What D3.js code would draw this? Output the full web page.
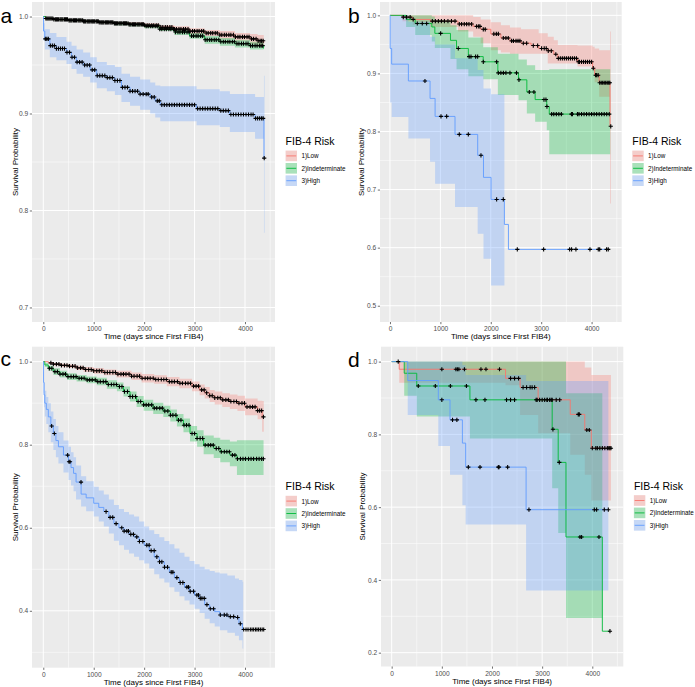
<!DOCTYPE html>
<html><head><meta charset="utf-8">
<script src="https://cdn.jsdelivr.net/npm/d3@7"></script>
<style>
body{margin:0;background:#fff}
svg{display:block}
text{font-family:"Liberation Sans",Arial,sans-serif}
</style>
</head><body>
<svg id="chart" width="695" height="687"></svg>
<script>
// ---------------- DATA ----------------
const groups = ["1)Low", "2)Indeterminate", "3)High"];
const legendTitle = "FIB-4 Risk";
const xTitle = "Time (days since First FIB4)";
const yTitle = "Survival Probability";
const xTicks = [0, 1000, 2000, 3000, 4000];
const aYTicks = [0.7, 0.8, 0.9, 1.0];
const bYTicks = [0.5, 0.6, 0.7, 0.8, 0.9, 1.0];
const cYTicks = [0.4, 0.6, 0.8, 1.0];
const dYTicks = [0.2, 0.4, 0.6, 0.8, 1.0];

// Panel a
const aLowTime  = [0,50,200,500,800,1100,1400,1700,2000,2300,2600,2900,3200,3500,3800,4100,4250,4372];
const aLowSurv  = [1.000,0.998,0.997,0.996,0.995,0.994,0.993,0.992,0.991,0.989,0.987,0.985,0.983,0.981,0.979,0.977,0.975,0.973];
const aLowUpper = [1.000,0.999,0.998,0.997,0.996,0.995,0.994,0.994,0.993,0.991,0.990,0.988,0.986,0.985,0.983,0.982,0.981,0.980];
const aLowLower = [1.000,0.997,0.996,0.995,0.994,0.993,0.992,0.991,0.989,0.987,0.985,0.982,0.980,0.977,0.975,0.972,0.970,0.967];
const aLowCensor = [50,90,130,170,210,260,300,350,390,440,480,530,570,620,660,710,750,800,840,890,930,980,1020,1070,1110,1160,1200,1250,1290,1340,1380,1430,1470,1520,1560,1610,1650,1700,1740,1790,1830,1880,1920,1970,2010,2060,2100,2150,2190,2240,2280,2330,2370,2420,2460,2510,2550,2600,2640,2690,2730,2780,2820,2870,2910,2960,3000,3050,3090,3140,3180,3230,3270,3320,3360,3410,3450,3500,3540,3590,3630,3680,3720,3770,3810,3860,3900,3950,3990,4040,4080,4130,4170,4220,4260,4300,4330,4360];

const aIndTime  = [0,50,200,500,800,1100,1400,1700,2000,2300,2600,2900,3200,3500,3800,4100,4368];
const aIndSurv  = [1.000,0.998,0.997,0.996,0.995,0.994,0.993,0.992,0.990,0.987,0.984,0.980,0.976,0.974,0.972,0.970,0.967];
const aIndUpper = [1.000,0.999,0.998,0.997,0.996,0.995,0.994,0.993,0.992,0.989,0.986,0.983,0.980,0.978,0.976,0.974,0.972];
const aIndLower = [1.000,0.997,0.996,0.995,0.994,0.993,0.991,0.990,0.988,0.985,0.981,0.977,0.972,0.970,0.968,0.966,0.962];
const aIndCensor = [70,110,150,190,240,280,330,370,420,460,510,550,600,640,690,730,780,820,870,910,960,1000,1050,1090,1140,1180,1230,1270,1320,1360,1410,1450,1500,1540,1590,1630,1680,1720,1770,1810,1860,1900,1950,1990,2040,2080,2130,2170,2220,2260,2310,2350,2400,2440,2490,2530,2580,2620,2670,2710,2760,2800,2850,2890,2940,2980,3030,3070,3120,3160,3210,3250,3300,3340,3390,3430,3480,3520,3570,3610,3660,3700,3750,3790,3840,3880,3930,3970,4020,4060,4110,4150,4200,4240,4290,4320,4350];

const aHighTime  = [0,5,30,130,260,460,560,660,790,930,1060,1260,1420,1550,1720,1920,2120,2220,2320,3040,3500,3700,4200,4376,4387];
const aHighSurv  = [1.000,0.985,0.977,0.970,0.967,0.963,0.958,0.953,0.950,0.945,0.939,0.937,0.934,0.927,0.923,0.920,0.917,0.913,0.909,0.905,0.903,0.899,0.895,0.854,0.854];
const aHighUpper = [1.000,0.993,0.987,0.983,0.979,0.974,0.970,0.966,0.963,0.958,0.953,0.950,0.948,0.941,0.938,0.935,0.932,0.929,0.928,0.925,0.923,0.920,0.917,0.939,0.939];
const aHighLower = [1.000,0.975,0.966,0.958,0.955,0.951,0.946,0.941,0.938,0.932,0.926,0.923,0.919,0.912,0.908,0.904,0.900,0.896,0.892,0.888,0.886,0.881,0.874,0.777,0.777];
const aHighCensor = [40,70,100,140,180,220,260,300,340,380,420,470,520,570,620,670,720,770,820,870,920,970,1020,1070,1120,1170,1220,1270,1320,1370,1420,1470,1520,1570,1620,1670,1720,1770,1820,1870,1920,1980,2040,2080,2150,2200,2260,2300,2350,2400,2450,2500,2550,2600,2650,2700,2750,2800,2850,2900,2950,3000,3060,3110,3160,3210,3260,3310,3360,3410,3460,3520,3570,3620,3670,3720,3770,3820,3870,3920,3970,4020,4070,4120,4160,4210,4250,4290,4330,4360,4381];

// Panel b
const bLowTime  = [0,250,450,800,1350,1650,1800,2000,2200,2380,2600,2800,2950,3130,3250,3330,3720,4020,4060,4150,4365,4380];
const bLowSurv  = [1.000,0.997,0.993,0.990,0.985,0.981,0.976,0.968,0.961,0.956,0.952,0.948,0.943,0.939,0.933,0.926,0.920,0.909,0.897,0.884,0.809,0.809];
const bLowUpper = [1.000,1.000,1.000,1.000,1.000,0.997,0.993,0.988,0.983,0.979,0.976,0.976,0.969,0.963,0.957,0.949,0.948,0.946,0.943,0.940,0.972,0.972];
const bLowLower = [1.000,0.990,0.984,0.980,0.972,0.963,0.952,0.940,0.936,0.934,0.934,0.934,0.934,0.917,0.917,0.917,0.912,0.905,0.885,0.860,0.676,0.676];
const bLowCensor = [264,330,400,460,840,900,960,1020,1080,1150,1220,1290,1375,1421,1474,1521,1567,1620,1719,1760,1785,1851,1890,2060,2110,2150,2248,2300,2347,2413,2450,2500,2540,2578,2645,2711,2843,2929,3008,3060,3100,3140,3200,3290,3340,3380,3420,3460,3500,3540,3580,3620,3660,3700,3736,3760,3800,3840,3880,3920,3960,4000,4033,4079,4100,4130,4160,4190,4220,4250,4280,4310,4340,4362,4380];

const bIndTime  = [0,320,500,830,890,1200,1320,1555,1850,2140,2550,2715,2880,3110,3160,4370];
const bIndSurv  = [1.000,0.993,0.986,0.980,0.969,0.957,0.943,0.929,0.920,0.901,0.889,0.868,0.855,0.843,0.830,0.830];
const bIndUpper = [1.000,1.000,1.000,0.998,0.992,0.983,0.975,0.962,0.945,0.934,0.924,0.914,0.906,0.906,0.907,0.907];
const bIndLower = [1.000,0.980,0.966,0.955,0.944,0.925,0.907,0.895,0.890,0.863,0.854,0.831,0.817,0.802,0.761,0.761];
const bIndCensor = [542,641,727,1005,1355,1570,1607,1699,1739,1851,2116,2149,2200,2250,2300,2380,2510,2559,2764,2856,3055,3094,3114,3207,3250,3300,3350,3400,3600,3620,3720,3750,3800,3850,3900,3950,4000,4050,4100,4150,4200,4250,4300,4350];

const bHighTime  = [0,3,33,365,795,895,1290,1740,1855,2005,2270,2350,4360];
const bHighSurv  = [1.000,0.943,0.916,0.887,0.857,0.826,0.795,0.759,0.721,0.683,0.640,0.597,0.597];
const bHighUpper = [1.000,1.000,1.000,0.989,0.963,0.950,0.926,0.906,0.874,0.864,null,null,null];
const bHighLower = [1.000,0.850,0.825,0.788,0.748,0.710,0.670,0.624,0.581,0.535,null,null,null];
const bHighCensor = [694,1012,1124,1375,1554,1805,2116,2248,2526,3048,3564,3603,3689,3967,4132,4160,4297,4330];

// Panel c
const cLowTime  = [0,100,200,350,500,650,800,1000,1200,1450,1750,1950,2200,2450,2700,2950,3100,3200,3300,3400,3550,3700,3850,4000,4250,4340,4372];
const cLowSurv  = [1.000,0.997,0.994,0.991,0.989,0.985,0.981,0.978,0.974,0.970,0.965,0.960,0.957,0.952,0.948,0.941,0.932,0.925,0.918,0.913,0.908,0.904,0.900,0.891,0.882,0.867,0.867];
const cLowUpper = [1.000,0.999,0.997,0.995,0.993,0.990,0.987,0.985,0.981,0.978,0.974,0.970,0.967,0.963,0.959,0.952,0.945,0.939,0.932,0.928,0.924,0.921,0.918,0.911,0.906,0.905,0.905];
const cLowLower = [1.000,0.995,0.991,0.987,0.985,0.980,0.975,0.971,0.967,0.962,0.956,0.950,0.947,0.941,0.936,0.929,0.919,0.911,0.903,0.897,0.891,0.886,0.881,0.871,0.861,0.831,0.831];
const cLowCensor = [150,200,260,310,360,420,470,520,580,630,680,740,790,840,900,950,1000,1060,1110,1160,1220,1270,1320,1380,1430,1480,1540,1590,1640,1700,1750,1800,1860,1910,1960,2020,2070,2120,2180,2230,2280,2340,2390,2440,2500,2550,2600,2660,2710,2760,2820,2870,2920,2980,3030,3080,3140,3190,3240,3300,3350,3400,3460,3510,3560,3620,3670,3720,3780,3830,3880,3940,3990,4040,4100,4150,4200,4250,4290,4330,4365];

const cIndTime  = [0,30,100,200,330,470,660,860,1060,1260,1460,1590,1720,1850,1990,2180,2380,2520,2650,2780,2910,3050,3180,3380,3510,3700,3840,4368];
const cIndSurv  = [1.000,0.992,0.984,0.976,0.970,0.964,0.960,0.956,0.952,0.945,0.940,0.928,0.916,0.904,0.896,0.888,0.881,0.871,0.859,0.847,0.827,0.815,0.799,0.791,0.783,0.775,0.766,0.766];
const cIndUpper = [1.000,0.997,0.990,0.984,0.978,0.972,0.968,0.964,0.961,0.955,0.950,0.940,0.928,0.917,0.908,0.901,0.894,0.885,0.874,0.863,0.845,0.835,0.822,0.817,0.812,0.808,0.811,0.811];
const cIndLower = [1.000,0.987,0.978,0.968,0.962,0.956,0.952,0.948,0.943,0.935,0.929,0.916,0.904,0.891,0.882,0.874,0.867,0.856,0.844,0.830,0.808,0.795,0.777,0.768,0.758,0.748,0.727,0.727];
const cIndCensor = [120,170,230,280,330,390,440,490,550,600,650,710,760,810,870,920,970,1030,1080,1130,1190,1240,1290,1350,1400,1450,1510,1560,1610,1670,1720,1770,1830,1880,1930,1990,2040,2090,2150,2200,2250,2310,2360,2410,2470,2520,2570,2630,2680,2730,2790,2840,2890,2950,3000,3050,3110,3160,3210,3270,3320,3370,3430,3480,3530,3590,3640,3690,3750,3800,3850,3910,3960,4010,4070,4120,4170,4230,4280,4330,4365];

const cHighTime  = [0,5,15,30,60,100,150,200,250,300,400,500,550,600,650,750,850,1000,1100,1200,1300,1400,1500,1600,1700,1800,1900,2000,2100,2200,2300,2400,2500,2600,2700,2800,2900,3000,3100,3200,3300,3400,3500,3650,3800,3880,3950,3965,4370];
const cHighSurv  = [1.000,0.950,0.920,0.900,0.885,0.867,0.845,0.827,0.810,0.795,0.775,0.759,0.745,0.731,0.710,0.681,0.672,0.659,0.649,0.639,0.625,0.610,0.600,0.592,0.584,0.578,0.567,0.558,0.545,0.530,0.518,0.505,0.493,0.480,0.468,0.457,0.447,0.438,0.430,0.415,0.405,0.398,0.390,0.386,0.384,0.369,0.355,0.355,0.355];
const cHighUpper = [1.000,0.975,0.950,0.930,0.915,0.900,0.880,0.862,0.845,0.830,0.810,0.795,0.782,0.770,0.750,0.724,0.712,0.699,0.690,0.680,0.668,0.655,0.645,0.638,0.632,0.627,0.615,0.603,0.594,0.585,0.577,0.568,0.560,0.550,0.540,0.530,0.520,0.512,0.506,0.500,0.496,0.492,0.490,0.485,0.478,0.474,0.470,null,null];
const cHighLower = [1.000,0.925,0.890,0.868,0.850,0.830,0.806,0.787,0.770,0.755,0.733,0.715,0.702,0.688,0.668,0.651,0.640,0.627,0.615,0.603,0.586,0.569,0.558,0.547,0.538,0.530,0.522,0.514,0.502,0.488,0.478,0.468,0.457,0.446,0.435,0.425,0.415,0.405,0.395,0.381,0.370,0.362,0.353,0.347,0.340,0.329,0.309,null,null];
const cHighCensor = [166,219,483,510,530,748,1245,1325,1377,1444,1556,1603,1656,1689,1735,1788,1854,1907,1974,2053,2099,2139,2199,2252,2305,2351,2404,2464,2536,2570,2649,2715,2768,2848,2881,2914,2980,3046,3079,3113,3146,3192,3245,3311,3377,3510,3589,3642,3709,3775,3854,3907,3974,4020,4060,4106,4140,4172,4210,4238,4270,4305,4340,4371];

// Panel d
const dLowTime  = [0,150,2270,2560,2920,3560,3850,3980,4372];
const dLowSurv  = [1.000,0.979,0.954,0.929,0.895,0.855,0.812,0.762,0.762];
const dLowUpper = [1.000,1.000,1.000,1.000,1.000,1.000,0.984,0.963,0.963];
const dLowLower = [1.000,0.942,0.935,0.853,0.803,0.744,0.689,0.618,0.618];
const dLowCensor = [130,1000,1280,1310,1340,1450,1780,1880,2150,2370,2450,2530,2620,2690,2760,2800,2850,2950,3050,3100,3150,3200,3280,3350,3720,3740,3890,3940,4000,4070,4100,4150,4200,4250,4300,4330,4350,4372];

const dIndTime  = [0,250,500,1560,3200,3320,3475,4200,4352];
const dIndSurv  = [1.000,0.968,0.933,0.895,0.814,0.723,0.518,0.259,0.259];
const dIndUpper = [1.000,1.000,1.000,1.000,1.000,1.000,0.913,null,null];
const dIndLower = [1.000,0.906,0.849,0.789,0.652,0.529,0.295,null,null];
const dIndCensor = [530,870,1170,1490,1680,1860,2290,2370,2450,2880,2900,3000,3100,3180,3215,3342,3754,3787,4133,4352];

const dHighTime  = [0,320,930,1163,1410,1475,2680,4320];
const dHighSurv  = [1.000,0.948,0.895,0.840,0.776,0.710,0.593,0.593];
const dHighUpper = [1.000,1.000,1.000,1.000,0.990,0.963,0.947,0.947];
const dHighLower = [1.000,0.853,0.768,0.689,0.605,0.552,0.371,0.371];
const dHighCensor = [1000,1213,1300,1528,1761,2126,2140,2312,2737,4040,4086,4239,4319];

// ---------------- STYLE / LAYOUT ----------------
const colors = ["#F8766D", "#00BA38", "#619CFF"];

const panels = [
  { letter: "a", box: [32, 275, 2, 322], xDomain: [-224, 4595], yDomain: [0.685, 1.015], yTicks: aYTicks,
    letterPos: [0.5, 23], yTitleX: 15,
    series: [
      {time: aLowTime, surv: aLowSurv, up: aLowUpper, lo: aLowLower, cens: aLowCensor},
      {time: aIndTime, surv: aIndSurv, up: aIndUpper, lo: aIndLower, cens: aIndCensor},
      {time: aHighTime, surv: aHighSurv, up: aHighUpper, lo: aHighLower, cens: aHighCensor}] },
  { letter: "b", box: [380, 621.7, 2, 322], xDomain: [-198, 4597], yDomain: [0.472, 1.023], yTicks: bYTicks,
    letterPos: [348, 23], yTitleX: 361.7,
    series: [
      {time: bLowTime, surv: bLowSurv, up: bLowUpper, lo: bLowLower, cens: bLowCensor},
      {time: bIndTime, surv: bIndSurv, up: bIndUpper, lo: bIndLower, cens: bIndCensor},
      {time: bHighTime, surv: bHighSurv, up: bHighUpper, lo: bHighLower, cens: bHighCensor}] },
  { letter: "c", box: [32, 275, 346.7, 667.7], xDomain: [-224, 4595], yDomain: [0.263, 1.036], yTicks: cYTicks,
    letterPos: [0.5, 366], yTitleX: 15,
    series: [
      {time: cLowTime, surv: cLowSurv, up: cLowUpper, lo: cLowLower, cens: cLowCensor},
      {time: cIndTime, surv: cIndSurv, up: cIndUpper, lo: cIndLower, cens: cIndCensor},
      {time: cHighTime, surv: cHighSurv, up: cHighUpper, lo: cHighLower, cens: cHighCensor}] },
  { letter: "d", box: [381, 623.3, 346.7, 666.5], xDomain: [-213, 4618], yDomain: [0.162, 1.041], yTicks: dYTicks,
    letterPos: [348, 366.5], yTitleX: 362.3,
    series: [
      {time: dLowTime, surv: dLowSurv, up: dLowUpper, lo: dLowLower, cens: dLowCensor},
      {time: dIndTime, surv: dIndSurv, up: dIndUpper, lo: dIndLower, cens: dIndCensor},
      {time: dHighTime, surv: dHighSurv, up: dHighUpper, lo: dHighLower, cens: dHighCensor}] }
];

const svg = d3.select("#chart");
const defs = svg.append("defs");

function minorBreaks(ticks, domain) {
  const step = ticks[1] - ticks[0];
  const ext = [ticks[0] - step, ...ticks, ticks[ticks.length - 1] + step];
  const out = [];
  for (let i = 0; i < ext.length - 1; i++) {
    const m = (ext[i] + ext[i + 1]) / 2;
    if (m > domain[0] && m < domain[1]) out.push(m);
  }
  return out;
}

function drawPanel(p) {
  const [x0, x1, y0, y1] = p.box;
  const x = d3.scaleLinear().domain(p.xDomain).range([x0, x1]);
  const y = d3.scaleLinear().domain(p.yDomain).range([y1, y0]);
  const g = svg.append("g");

  g.append("rect").attr("x", x0).attr("y", y0).attr("width", x1 - x0).attr("height", y1 - y0).attr("fill", "#EBEBEB");

  const grid = g.append("g").attr("stroke", "#FFFFFF");
  minorBreaks(xTicks, p.xDomain).forEach(v => grid.append("line").attr("x1", x(v)).attr("x2", x(v)).attr("y1", y0).attr("y2", y1).attr("stroke-width", 0.5));
  minorBreaks(p.yTicks, p.yDomain).forEach(v => grid.append("line").attr("y1", y(v)).attr("y2", y(v)).attr("x1", x0).attr("x2", x1).attr("stroke-width", 0.5));
  xTicks.forEach(v => grid.append("line").attr("x1", x(v)).attr("x2", x(v)).attr("y1", y0).attr("y2", y1).attr("stroke-width", 1));
  p.yTicks.forEach(v => grid.append("line").attr("y1", y(v)).attr("y2", y(v)).attr("x1", x0).attr("x2", x1).attr("stroke-width", 1));

  const clipId = "clip-" + p.letter;
  defs.append("clipPath").attr("id", clipId).append("rect").attr("x", x0).attr("y", y0).attr("width", x1 - x0).attr("height", y1 - y0);
  const plot = g.append("g").attr("clip-path", `url(#${clipId})`);

  const area = d3.area().defined(d => d.def).x(d => x(d.t)).y0(d => y(d.lo)).y1(d => y(d.up));
  p.series.forEach((s, k) => {
    const pts = [];
    for (let i = 0; i < s.time.length - 1; i++) {
      const def = s.up[i] != null && s.lo[i] != null;
      pts.push({t: s.time[i], up: s.up[i], lo: s.lo[i], def});
      pts.push({t: s.time[i + 1], up: s.up[i], lo: s.lo[i], def});
    }
    plot.append("path").attr("d", area(pts)).attr("fill", colors[k]).attr("fill-opacity", 0.3).attr("stroke", "none");
  });

  const line = d3.line().curve(d3.curveStepAfter).x(d => x(d[0])).y(d => y(d[1]));
  p.series.forEach((s, k) => {
    plot.append("path").attr("d", line(s.time.map((t, i) => [t, s.surv[i]])))
      .attr("fill", "none").attr("stroke", colors[k]).attr("stroke-width", 0.9);
  });

  p.series.forEach(s => {
    const marks = plot.append("g").attr("stroke", "#000").attr("stroke-width", 1.1).attr("fill", "none");
    s.cens.forEach(c => {
      const i = Math.max(0, d3.bisectRight(s.time, c) - 1);
      const cx = x(c), cy = y(s.surv[i]);
      marks.append("path").attr("d", `M${cx - 2.1},${cy}H${cx + 2.1}M${cx},${cy - 2.1}V${cy + 2.1}`);
    });
  });

  // axes
  const yAxis = g.append("g").attr("transform", `translate(${x0},0)`)
    .call(d3.axisLeft(y).tickValues(p.yTicks).tickFormat(d3.format(".1f")).tickSize(2.2).tickPadding(1.6));
  const xAxis = g.append("g").attr("transform", `translate(0,${y1})`)
    .call(d3.axisBottom(x).tickValues(xTicks).tickFormat(d3.format("d")).tickSize(2.2).tickPadding(2.2));
  [yAxis, xAxis].forEach(ax => {
    ax.select(".domain").remove();
    ax.selectAll(".tick line").attr("stroke", "#333333").attr("stroke-width", 0.7);
    ax.selectAll(".tick text").attr("fill", "#4D4D4D").style("font-size", "6.6px").style("font-family", '"Liberation Sans", Arial, sans-serif');
  });

  g.append("text").attr("x", (x0 + x1) / 2).attr("y", y1 + 17.3).attr("text-anchor", "middle")
    .style("font-size", "8px").attr("fill", "#000").text(xTitle);
  g.append("text").attr("transform", `translate(${p.yTitleX},${(y0 + y1) / 2}) rotate(-90)`)
    .attr("text-anchor", "middle").attr("dominant-baseline", "central")
    .style("font-size", "8px").attr("fill", "#000").text(yTitle);

  g.append("text").attr("x", p.letterPos[0]).attr("y", p.letterPos[1]).style("font-size", "21px").attr("fill", "#000").text(p.letter);

  // legend
  const lx = x1 + 10.6;
  const cy0 = (y0 + y1) / 2;
  const leg = g.append("g");
  leg.append("text").attr("x", lx).attr("y", cy0 - 16.8).style("font-size", "10.5px").attr("fill", "#000").text(legendTitle);
  groups.forEach((name, k) => {
    const ky = cy0 - 11.4 + k * 12.4;
    leg.append("rect").attr("x", lx).attr("y", ky).attr("width", 11.4).attr("height", 10.6).attr("fill", "#F2F2F2");
    leg.append("rect").attr("x", lx).attr("y", ky).attr("width", 11.4).attr("height", 10.6).attr("fill", colors[k]).attr("fill-opacity", 0.3);
    leg.append("line").attr("x1", lx + 0.8).attr("x2", lx + 10.6).attr("y1", ky + 5.3).attr("y2", ky + 5.3)
      .attr("stroke", colors[k]).attr("stroke-width", 0.9);
    leg.append("text").attr("x", lx + 15.8).attr("y", ky + 5.3).attr("dominant-baseline", "central")
      .style("font-size", "6.3px").attr("fill", "#000").text(name);
  });
}

panels.forEach(drawPanel);
</script>
</body></html>
